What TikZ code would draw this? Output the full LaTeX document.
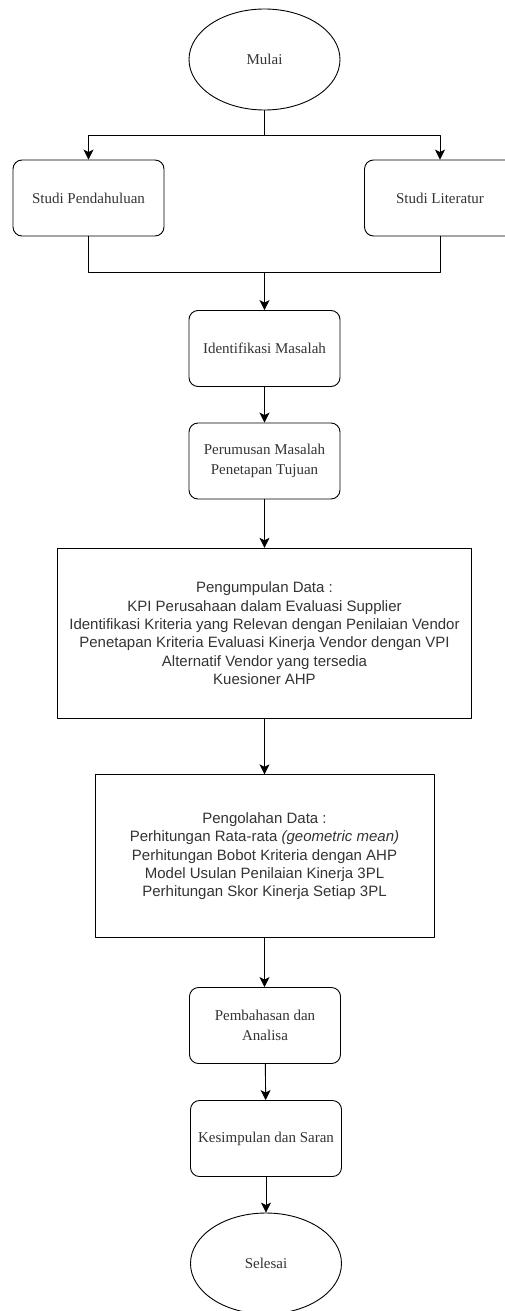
\documentclass[tikz,border=0pt]{standalone}
\usepackage{fontspec}
\setmainfont{Liberation Serif}
\setsansfont{Liberation Sans}
\usetikzlibrary{shapes.geometric,arrows.meta}
\begin{document}
\begin{tikzpicture}[x=1pt,y=-1pt,line width=0.9pt,line join=round,>={Stealth[length=10pt,width=10pt,inset=2.5pt]},
  proses/.style={draw,rounded corners=9pt,minimum width=151pt,minimum height=76pt,align=center,
    text=black!80,font=\fontsize{15}{19.3}\selectfont},
  terminal/.style={draw,ellipse,minimum width=151pt,minimum height=101pt,
    text=black!80,font=\fontsize{15}{19.3}\selectfont},
  datakotak/.style={draw,align=center,text=black!80,font=\sffamily\fontsize{15}{18.3}\selectfont}]
\useasboundingbox (0,0) rectangle (505,1311);
\path
(264.5,135) coordinate (split)
(264.5,272.7) coordinate (join)
;
\node[terminal] (mulai) at (264.5,59.5) {Mulai};
\node[proses] (studiP) at (88.5,198) {Studi Pendahuluan};
\node[proses] (studiL) at (440,198) {Studi Literatur};
\node[proses] (ident) at (264.5,348.5) {Identifikasi Masalah};
\node[proses] (rumus) at (264.5,461) {Perumusan Masalah\\Penetapan Tujuan};
\node[datakotak,minimum width=414pt,minimum height=170pt] (kumpul) at (264.5,633.3)
  {Pengumpulan Data :\\KPI Perusahaan dalam Evaluasi Supplier\\Identifikasi Kriteria yang Relevan dengan Penilaian Vendor\\Penetapan Kriteria Evaluasi Kinerja Vendor dengan VPI\\Alternatif Vendor yang tersedia\\Kuesioner AHP};
\node[datakotak,minimum width=339pt,minimum height=163pt] (olah) at (264.5,856.3)
  {Pengolahan Data :\\Perhitungan Rata-rata \textit{(geometric mean)}\\Perhitungan Bobot Kriteria dengan AHP\\Model Usulan Penilaian Kinerja 3PL\\Perhitungan Skor Kinerja Setiap 3PL};
\node[proses] (bahas) at (265,1025.5) {Pembahasan dan\\Analisa};
\node[proses] (simpul) at (266,1138.5) {Kesimpulan dan Saran};
\node[terminal] (selesai) at (266,1263.5) {Selesai};
\draw[->] (mulai) -- (split) -| (studiP);
\draw[->] (split) -| (studiL);
\draw (studiP) |- (join) -| (studiL);
\draw[->] (join) -- (ident);
\draw[->] (ident) -- (rumus);
\draw[->] (rumus) -- (kumpul);
\draw[->] (kumpul) -- (olah);
\draw[->] (olah.south) -- (olah.south |- bahas.north);
\draw[->] (bahas) -- (simpul);
\draw[->] (simpul) -- (selesai);
\end{tikzpicture}
\end{document}
